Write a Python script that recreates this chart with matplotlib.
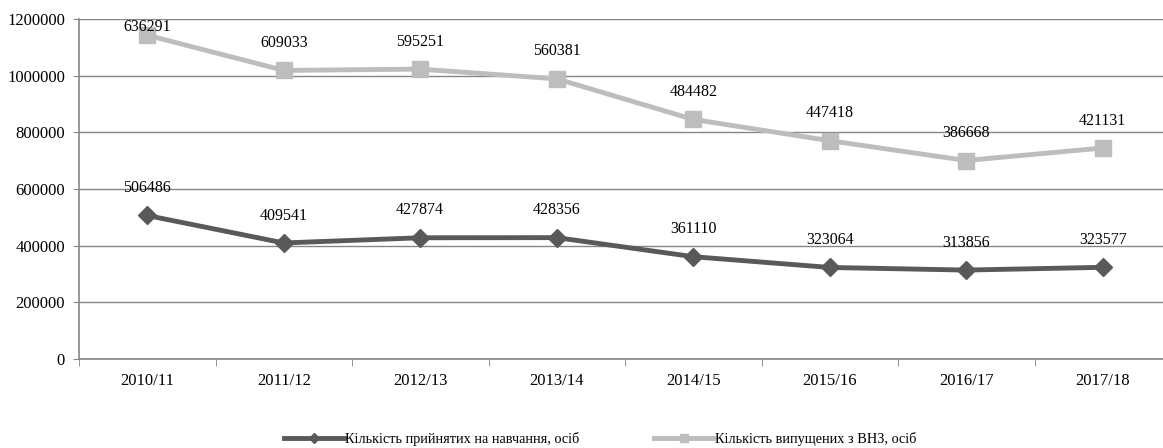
import matplotlib.pyplot as plt
from matplotlib.lines import Line2D
from matplotlib.ticker import StrMethodFormatter
import numpy as np

years = ["2010/11", "2011/12", "2012/13", "2013/14", "2014/15", "2015/16", "2016/17", "2017/18"]
admitted = [506486, 409541, 427874, 428356, 361110, 323064, 313856, 323577]
graduated = [636291, 609033, 595251, 560381, 484482, 447418, 386668, 421131]

label_admitted = "Кількість прийнятих на навчання, осіб"
label_graduated = "Кількість випущених з ВНЗ, осіб"

plt.rcParams["font.family"] = ["Liberation Serif", "DejaVu Serif"]

x = np.arange(len(years))
adm = np.array(admitted)
grad_stacked = adm + np.array(graduated)  # stacked line chart

fig = plt.figure(figsize=(11.63, 4.48), dpi=100)
ax = fig.add_axes([79 / 1163, 1 - 359 / 448, 1092 / 1163, 340 / 448])

grid_c = "#868686"
dark = "#595959"
light = "#BDBDBD"
ax.set_ylim(0, 1200000)
ax.set_xlim(-0.5, 7.5)
ax.set_yticks(np.arange(0, 1200001, 200000))
ax.yaxis.set_major_formatter(StrMethodFormatter("{x:.0f}"))
ax.yaxis.grid(True, color=grid_c, lw=1)
ax.set_axisbelow(True)
for s in ["top", "right"]:
    ax.spines[s].set_visible(False)
for s in ["left", "bottom"]:
    ax.spines[s].set_color(grid_c)
    ax.spines[s].set_linewidth(1.2)

ax.set_xticks(x)
ax.set_xticklabels(years)
ax.set_xticks(np.arange(-0.5, 8, 1), minor=True)
ax.tick_params(axis="x", which="major", length=0, pad=10, labelsize=12)
ax.tick_params(axis="x", which="minor", length=5, color=grid_c, direction="out")
ax.tick_params(axis="y", length=4, color=grid_c, labelsize=12, pad=6)

ax.plot(x, adm, color=dark, lw=3.5, marker="D", ms=9, zorder=3)
ax.plot(x, grad_stacked, color=light, lw=3.5, marker="s", ms=11, zorder=3)

for i in x:
    ax.annotate(f"{admitted[i]}", (i, adm[i]), xytext=(0, 14), textcoords="offset points",
                ha="center", va="bottom", fontsize=11.5)
    off = 14 if grad_stacked[i] < 1100000 else 0
    ax.annotate(f"{graduated[i]}", (i, grad_stacked[i]), xytext=(0, off), textcoords="offset points",
                ha="center", va="bottom", fontsize=11.5)

handles = [
    Line2D([], [], color=dark, lw=3.5, marker="D", ms=5),
    Line2D([], [], color=light, lw=3.5, marker="s", ms=6),
]
fig.legend(handles, [label_admitted, label_graduated], loc="lower center",
           bbox_to_anchor=(0.516, -0.025), ncol=2, frameon=False,
           fontsize=10.3, handlelength=4.2, columnspacing=5.2, handletextpad=0.05)

fig.savefig("out.png", dpi=100)
